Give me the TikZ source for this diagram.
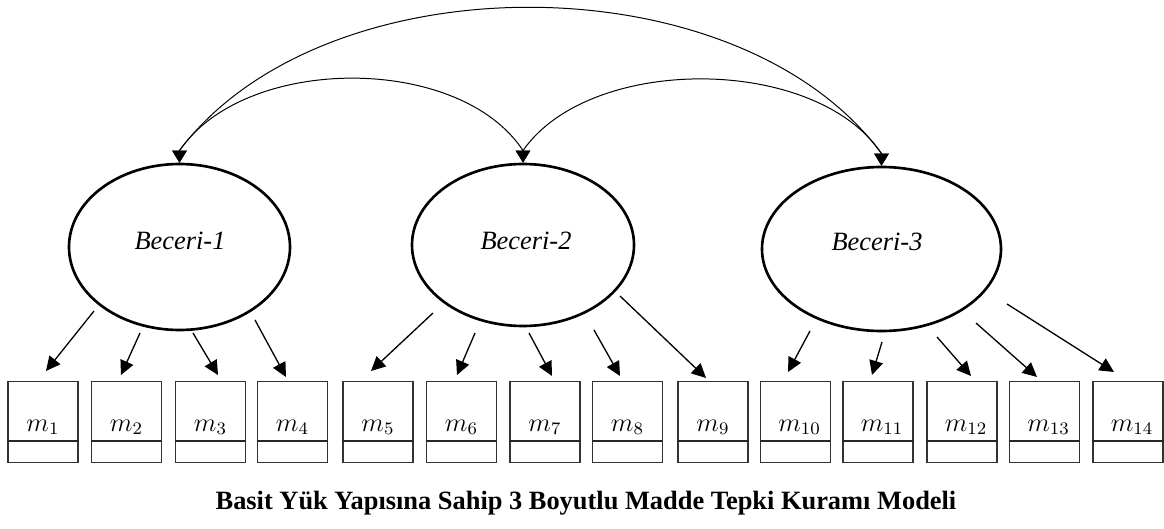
\documentclass[tikz,border=0pt]{standalone}
\usepackage{fontspec}
\setmainfont{Liberation Serif}
\usetikzlibrary{shapes.geometric,arrows.meta}

\begin{document}
\begin{tikzpicture}[x=0.4545pt,y=-0.4545pt,
  latent/.style={ellipse,draw,line width=1.2pt,inner sep=0pt,fill=white},
  item/.style={rectangle,draw=black!80,line width=0.75pt,
    minimum width=70*0.4545pt,minimum height=81*0.4545pt,inner sep=0pt},
  itemlbl/.style={anchor=base,inner sep=0pt,font=\fontsize{12}{14}\selectfont},
  factorlbl/.style={anchor=base,inner sep=0pt,font=\fontsize{12}{14}\selectfont\itshape},
  load/.style={line width=0.6pt,-{Triangle[length=6.5pt,width=6.3pt]}},
  cov/.style={line width=0.45pt,
    {Triangle[length=5.5pt,width=6.6pt]}-{Triangle[length=5.5pt,width=6.6pt]}},
  uline/.style={line width=0.6pt,black!85}]
\useasboundingbox[fill=white] (0,0) rectangle (1164,529);

% latent traits
\node[latent,minimum width=221*0.4545pt,minimum height=166*0.4545pt] (b1) at (179.5,247) {};
\node[latent,minimum width=222*0.4545pt,minimum height=162*0.4545pt] (b2) at (523,245) {};
\node[latent,minimum width=239*0.4545pt,minimum height=164*0.4545pt] (b3) at (881.5,249) {};
\node[factorlbl] (t1) at (180,249) {Beceri-1};
\node[factorlbl] (t2) at (526,249) {Beceri-2};
\node[factorlbl] (t3) at (877,250) {Beceri-3};

% covariances between traits: curves end in short vertical runs so the heads point down
\foreach \b in {1,2,3} {
  \coordinate (a\b) at ([yshift=5.5pt]b\b.north);
}
\draw[cov] (b1.north) -- (a1) .. controls (245,54) and (460,54) .. (a2) -- (b2.north);
\draw[cov] (b2.north) -- (a2) .. controls (590,54) and (816,55) .. (a3) -- (b3.north);
\draw[cov] (b1.north) -- (a1) .. controls (323,-41) and (738,-41) .. (a3) -- (b3.north);

% observed items
\coordinate (uline) at (0,441);
\foreach \i/\cx/\dx in {1/43/0,2/126.5/0,3/210.5/0,4/292.5/0,5/378/0,6/461.5/0,
    7/545/0,8/627.5/0,9/713/0,10/795.5/4,11/878/4,12/962/4,13/1044.5/4,14/1128/4} {
  \node[item] (m\i) at (\cx,422) {};
  \draw[uline] (m\i.west |- uline) -- (m\i.east |- uline);
  \node[itemlbl] (l\i) at (\cx+\dx,431) {$m_{\i}$};
}

% factor loadings
\foreach \i/\sx/\sy/\ex/\ey in {1/94/311/46/371, 2/140/333/121/375, 3/193/333/218/375,
    4/255/320/286/377, 5/433/313/371/371, 6/475/333/457/375, 7/529/333/552/376,
    8/594/330/620/376, 9/620/296/706/378, 10/810/331/788/372, 11/882/342/872/375,
    12/937/337/971/376, 13/976/323/1037/377, 14/1007/304/1114/372} {
  \coordinate (s\i) at (\sx,\sy);
  \coordinate (e\i) at (\ex,\ey);
  \draw[load] (s\i) -- (e\i);
}

\node[font=\fontsize{12}{14}\selectfont\bfseries,anchor=base,inner sep=0pt] (cap) at (586,509)
  {Basit Yük Yapısına Sahip 3 Boyutlu Madde Tepki Kuramı Modeli};
\end{tikzpicture}
\end{document}
